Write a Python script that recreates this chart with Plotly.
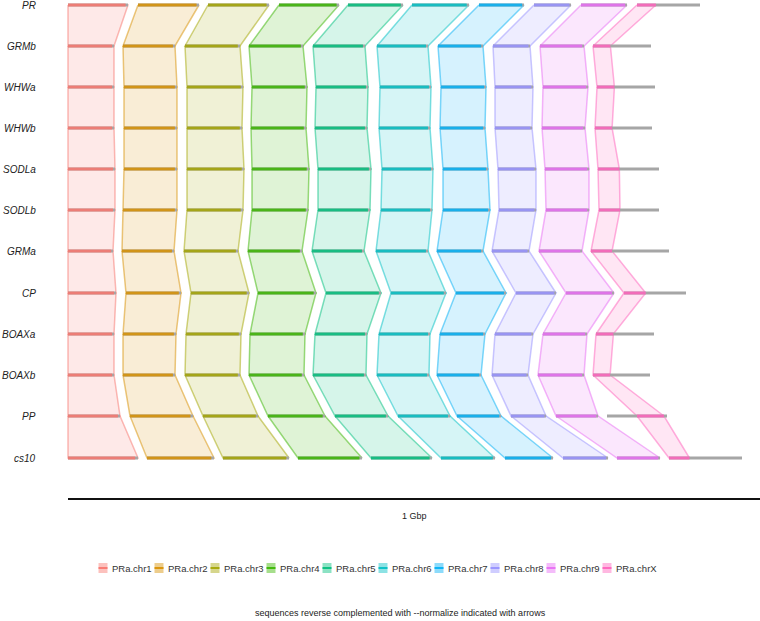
import plotly.graph_objects as go

genomes = ["PR", "GRMb", "WHWa", "WHWb", "SODLa", "SODLb", "GRMa", "CP", "BOAXa", "BOAXb", "PP", "cs10"]
row_y = [5, 46, 87, 128, 169, 210, 251, 293, 334, 375, 416, 458]
chroms = ["PRa.chr1", "PRa.chr2", "PRa.chr3", "PRa.chr4", "PRa.chr5",
          "PRa.chr6", "PRa.chr7", "PRa.chr8", "PRa.chr9", "PRa.chrX"]
colors = ["#F8766D", "#D89000", "#A3A500", "#39B600", "#00BF7D",
          "#00BFC4", "#00B0F6", "#9590FF", "#E76BF3", "#FF62BC"]

# chromosome start/end per genome (plot units)
starts = {
    "PR":    [68, 138, 208, 279, 348, 412, 479, 534, 581, 637],
    "GRMb":  [68, 123, 185, 249, 313, 377, 438, 493, 540, 593],
    "WHWa":  [68, 124, 187, 252, 316, 380, 441, 495, 543, 597],
    "WHWb":  [68, 124, 187, 251, 315, 379, 440, 495, 542, 595],
    "SODLa": [68, 124, 187, 252, 318, 382, 443, 498, 545, 598],
    "SODLb": [68, 123, 187, 252, 318, 381, 443, 499, 546, 599],
    "GRMa":  [68, 122, 184, 248, 312, 376, 437, 492, 539, 591],
    "CP":    [68, 126, 191, 258, 326, 391, 456, 516, 566, 624],
    "BOAXa": [68, 123, 186, 250, 315, 379, 440, 495, 543, 596],
    "BOAXb": [68, 123, 185, 249, 313, 377, 437, 492, 538, 593],
    "PP":    [68, 130, 203, 268, 335, 398, 457, 511, 556, 607],
    "cs10":  [68, 147, 223, 298, 371, 441, 505, 563, 617, 669],
}
ends = {
    "PR":    [128, 199, 269, 339, 403, 469, 524, 571, 627, 700],
    "GRMb":  [114, 175, 240, 303, 365, 428, 483, 530, 584, 651],
    "WHWa":  [114, 177, 243, 307, 368, 431, 486, 533, 588, 655],
    "WHWb":  [114, 177, 242, 306, 367, 430, 485, 532, 585, 652],
    "SODLa": [115, 177, 244, 309, 371, 433, 488, 536, 589, 659],
    "SODLb": [115, 177, 243, 308, 370, 432, 490, 536, 589, 659],
    "GRMa":  [113, 174, 238, 302, 364, 428, 483, 529, 582, 669],
    "CP":    [116, 181, 249, 316, 381, 446, 506, 556, 614, 686],
    "BOAXa": [114, 176, 241, 305, 367, 430, 485, 533, 587, 654],
    "BOAXb": [114, 175, 240, 304, 366, 429, 481, 528, 584, 650],
    "PP":    [120, 193, 258, 325, 388, 450, 501, 546, 598, 667],
    "cs10":  [138, 214, 289, 362, 432, 495, 553, 608, 660, 742],
}
# colored (syntenic) span of chrX per genome, as fractions of its length
x_from = [0.0, 0.0, 0.0, 0.0, 0.0, 0.0, 0.0, 0.0, 0.0, 0.0, 0.5, 0.0]
x_to = [0.3, 0.3, 0.3, 0.3, 0.35, 0.35, 0.27, 0.35, 0.3, 0.3, 0.95, 0.28]

fig = go.Figure()

def rgba(h, a):
    h = h.lstrip("#")
    return "rgba(%d,%d,%d,%s)" % (int(h[0:2], 16), int(h[2:4], 16), int(h[4:6], 16), a)

def span(g, i, c):
    a, b = starts[g][c], ends[g][c]
    if c == 9:
        return a + (b - a) * x_from[i], a + (b - a) * x_to[i]
    return a, b

# braids between adjacent genomes
for i in range(len(genomes) - 1):
    g0, g1 = genomes[i], genomes[i + 1]
    y0, y1 = row_y[i], row_y[i + 1]
    for c in range(len(chroms)):
        a0, b0 = span(g0, i, c)
        a1, b1 = span(g1, i + 1, c)
        fig.add_trace(go.Scatter(
            x=[a0, b0, b1, a1, a0], y=[y0, y0, y1, y1, y0],
            fill="toself", fillcolor=rgba(colors[c], 0.16),
            line=dict(color=rgba(colors[c], 0.5), width=1.5),
            mode="lines", hoverinfo="skip", showlegend=False))

# chromosome bars
for i, g in enumerate(genomes):
    for c in range(len(chroms)):
        fig.add_trace(go.Scatter(x=[starts[g][c], ends[g][c]], y=[row_y[i]] * 2, mode="lines",
                                 line=dict(color="#A6A6A6", width=3),
                                 hoverinfo="skip", showlegend=False))
        a, b = span(g, i, c)
        if c != 9:
            b = b - (b - a) * 0.04
        fig.add_trace(go.Scatter(x=[a, b], y=[row_y[i]] * 2, mode="lines",
                                 line=dict(color=rgba(colors[c], 0.85), width=3),
                                 hoverinfo="skip", showlegend=False))

# legend drawn by hand (ggplot-style compact keys)
leg_x = [103 + 56 * c for c in range(len(chroms))]
leg_y = 568
shapes = [dict(type="line", x0=68, x1=760, y0=499, y1=499, line=dict(color="#111", width=2))]
annotations = []
for c in range(len(chroms)):
    shapes.append(dict(type="rect", x0=leg_x[c] - 4.5, x1=leg_x[c] + 4.5, y0=leg_y - 5, y1=leg_y + 5,
                       fillcolor=rgba(colors[c], 0.45), line=dict(width=0)))
    shapes.append(dict(type="line", x0=leg_x[c] - 4.5, x1=leg_x[c] + 4.5, y0=leg_y, y1=leg_y,
                       line=dict(color=rgba(colors[c], 0.9), width=2)))
    annotations.append(dict(x=leg_x[c] + 7, y=leg_y, text=chroms[c], showarrow=False,
                            xanchor="left", font=dict(size=9.5, color="#333")))

annotations += [dict(x=36, y=row_y[i], text="<i>%s</i>" % g, showarrow=False,
                     xanchor="right", xshift=2, font=dict(size=10, color="#222"))
                for i, g in enumerate(genomes)]
annotations.append(dict(x=414, y=516, text="1 Gbp", showarrow=False, font=dict(size=9)))
annotations.append(dict(x=400, y=613, showarrow=False, font=dict(size=9),
                        text="sequences reverse complemented with --normalize indicated with arrows"))

fig.update_layout(
    width=760, height=621, plot_bgcolor="white", paper_bgcolor="white",
    margin=dict(l=0, r=0, t=0, b=0, autoexpand=False),
    font=dict(family="Liberation Sans, Arial", color="#222"),
    xaxis=dict(range=[0, 760], visible=False, fixedrange=True),
    yaxis=dict(range=[621, 0], visible=False, fixedrange=True),
    shapes=shapes,
    annotations=annotations,
    showlegend=False,
)

fig.write_html("out.html", config={"displayModeBar": False},
               post_script="document.body.style.margin='0';")
